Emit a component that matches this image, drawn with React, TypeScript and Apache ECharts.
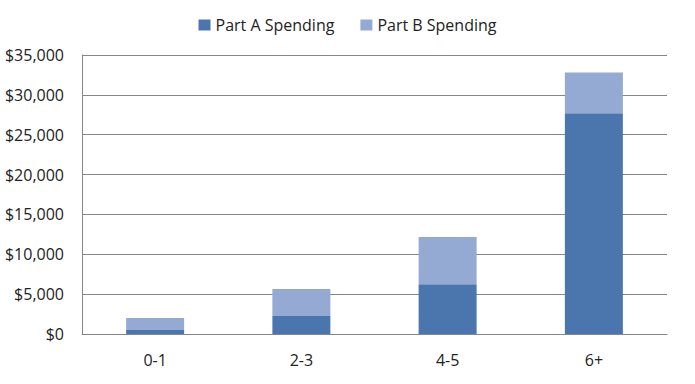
import React, { useEffect, useRef } from "react";
import * as echarts from "echarts";

const categories = ["0-1", "2-3", "4-5", "6+"];
const partA = [500, 2260, 6250, 27700];
const partB = [1500, 3390, 5920, 5090];
const seriesNames = ["Part A Spending", "Part B Spending"];

export default function App() {
  const ref = useRef<HTMLDivElement>(null);
  useEffect(() => {
    if (!ref.current) return;
    const chart = echarts.init(ref.current, null, { renderer: "svg" });
    const font = "'Open Sans', 'Noto Sans', sans-serif";
    chart.setOption({
      animation: false,
      backgroundColor: "#ffffff",
      textStyle: { fontFamily: font },
      legend: {
        top: 12,
        left: "center",
        itemWidth: 12,
        itemHeight: 11,
        itemGap: 26,
        textStyle: { fontSize: 16, color: "#222", fontFamily: font },
        icon: "rect",
        data: seriesNames,
      },
      grid: { left: 82, right: 28, top: 55, bottom: 50, containLabel: false },
      xAxis: {
        type: "category",
        data: categories,
        axisLine: { lineStyle: { color: "#868686", width: 1 } },
        axisTick: { show: false },
        axisLabel: { color: "#222", fontSize: 16, margin: 18, fontFamily: font },
      },
      yAxis: {
        type: "value",
        min: 0,
        max: 35000,
        interval: 5000,
        axisLine: { show: true, lineStyle: { color: "#868686", width: 1 } },
        axisTick: { show: false },
        splitLine: { lineStyle: { color: "#868686", width: 1 } },
        axisLabel: {
          color: "#222",
          fontSize: 16,
          margin: 18,
          fontFamily: font,
          formatter: (v: number) => "$" + v.toLocaleString("en-US"),
        },
      },
      series: [
        {
          name: seriesNames[0],
          type: "bar",
          stack: "total",
          barWidth: 58,
          data: partA,
          itemStyle: { color: "#4a76ad" },
        },
        {
          name: seriesNames[1],
          type: "bar",
          stack: "total",
          barWidth: 58,
          data: partB,
          itemStyle: { color: "#95aad2" },
        },
      ],
    });
    return () => chart.dispose();
  }, []);
  return <div ref={ref} style={{ width: 695, height: 384, position: "absolute", left: 0, top: 0 }} />;
}
